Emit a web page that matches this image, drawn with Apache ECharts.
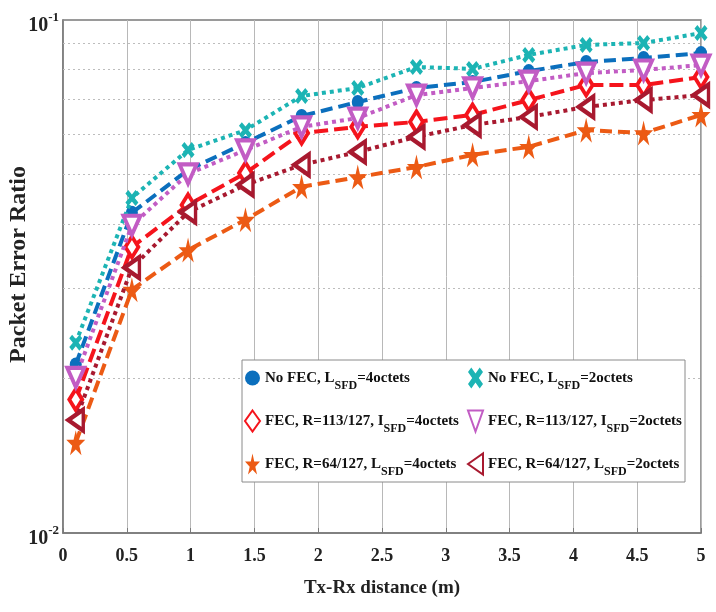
<!DOCTYPE html>
<html>
<head>
<meta charset="utf-8">
<script src="https://cdn.jsdelivr.net/npm/echarts@6/dist/echarts.min.js"></script>
<style>html,body{margin:0;padding:0;background:#fff;}#chart{width:716px;height:612px;}</style>
</head>
<body>
<div id="chart"></div>
<script>
// ---- data ----
const distances = [0.1, 0.54, 0.98, 1.43, 1.87, 2.31, 2.77, 3.21, 3.65, 4.1, 4.55, 5.0];
const xTicks = [0, 0.5, 1, 1.5, 2, 2.5, 3, 3.5, 4, 4.5, 5];
const yMinorGrid = [0.02, 0.03, 0.04, 0.05, 0.06, 0.07, 0.08, 0.09];
const noFec4 = [0.0213, 0.0421, 0.0510, 0.0576, 0.0650, 0.0692, 0.0737, 0.0757, 0.0795, 0.0828, 0.0843, 0.0862];
const noFec2 = [0.0235, 0.0450, 0.0558, 0.0610, 0.0711, 0.0737, 0.0810, 0.0803, 0.0855, 0.0894, 0.0902, 0.0943];
const fec113_4 = [0.0182, 0.0361, 0.0436, 0.0503, 0.0602, 0.0619, 0.0633, 0.0653, 0.0698, 0.0747, 0.0747, 0.0774];
const fec113_2 = [0.0201, 0.0398, 0.0501, 0.0558, 0.0619, 0.0644, 0.0714, 0.0737, 0.0760, 0.0788, 0.0799, 0.0817];
const fec64_4 = [0.0150, 0.0298, 0.0356, 0.0408, 0.0473, 0.0494, 0.0517, 0.0546, 0.0566, 0.0610, 0.0602, 0.0653];
const fec64_2 = [0.0166, 0.0329, 0.0422, 0.0477, 0.0522, 0.0553, 0.0592, 0.0624, 0.0647, 0.0677, 0.0698, 0.0714];
const seriesNames = ['noFec4', 'noFec2', 'fec113_4', 'fec113_2', 'fec64_4', 'fec64_2'];
const legendLeftColumn = ['noFec4', 'fec113_4', 'fec64_4'];
const legendRightColumn = ['noFec2', 'fec113_2', 'fec64_2'];
const legendLabels = {
  noFec4: ['No FEC, L', 'SFD', '=4octets'],
  noFec2: ['No FEC, L', 'SFD', '=2octets'],
  fec113_4: ['FEC, R=113/127, I', 'SFD', '=4octets'],
  fec113_2: ['FEC, R=113/127, I', 'SFD', '=2octets'],
  fec64_4: ['FEC, R=64/127, L', 'SFD', '=4octets'],
  fec64_2: ['FEC, R=64/127, L', 'SFD', '=2octets']
};
const xAxisTitle = 'Tx-Rx distance (m)';
const yAxisTitle = 'Packet Error Ratio';

// ---- styling ----
const FONT = '"Liberation Serif", "Times New Roman", serif';
const STAR = 'path://M50,0 L61,35 L98,35 L68,57 L79,91 L50,70 L21,91 L32,57 L2,35 L39,35 Z';
const XMARK = 'path://M22,0 L50,28 L78,0 L100,22 L72,50 L100,78 L78,100 L50,72 L22,100 L0,78 L28,50 L0,22 Z';
const TRI_DOWN = 'path://M0,0 L100,0 L50,100 Z';
const TRI_LEFT = 'path://M0,50 L100,0 L100,100 Z';

const styles = {
  noFec4:   {color: '#0b6fbd', dash: [12, 6], symbol: 'circle', size: [12, 14], hollow: false},
  noFec2:   {color: '#1cb4b4', dash: [4, 4], symbol: XMARK, size: [13, 16], hollow: false},
  fec113_4: {color: '#f5141c', dash: [14, 6], symbol: 'diamond', size: [13, 21], hollow: true},
  fec113_2: {color: '#c25cc4', dash: [4, 4], symbol: TRI_DOWN, size: [17, 19], hollow: true},
  fec64_4:  {color: '#ec5a14', dash: [12, 6], symbol: STAR, size: [19, 25], hollow: false},
  fec64_2:  {color: '#a8192f', dash: [4, 4], symbol: TRI_LEFT, size: [15, 21], hollow: true}
};
const dataMap = {noFec4, noFec2, fec113_4, fec113_2, fec64_4, fec64_2};

const series = seriesNames.map((name, i) => {
  const st = styles[name];
  const s = {
    name: name,
    type: 'line',
    data: distances.map((x, k) => [x, dataMap[name][k]]),
    symbol: st.symbol,
    symbolSize: st.size,
    showAllSymbol: true,
    lineStyle: {color: st.color, width: 4, type: st.dash},
    itemStyle: st.hollow ? {color: '#ffffff', borderColor: st.color, borderWidth: 4} : {color: st.color},
    z: 3 + i,
    animation: false
  };
  if (i === 0) {
    s.markLine = {
      silent: true,
      z: 1,
      symbol: ['none', 'none'],
      label: {show: false},
      lineStyle: {color: '#bdbdbd', width: 1, type: [2, 3]},
      data: yMinorGrid.map(v => ({yAxis: v})),
      animation: false
    };
  }
  return s;
});

function makeLegend(names, left) {
  return {
    left: left, top: 364,
    orient: 'vertical',
    padding: 0,
    itemGap: 15,
    itemWidth: 15, itemHeight: 21,
    symbolKeepAspect: false,
    z: 21,
    data: names.map(n => ({name: n, icon: styles[n].symbol})),
    formatter: n => '{m|' + legendLabels[n][0] + '}{s|' + legendLabels[n][1] + '}{m|' + legendLabels[n][2] + '}',
    textStyle: {
      rich: {
        m: {color: '#111', fontFamily: FONT, fontWeight: 'bold', fontSize: 15, lineHeight: 16},
        s: {color: '#111', fontFamily: FONT, fontWeight: 'bold', fontSize: 12, lineHeight: 12, padding: [16, 0, 0, 0]}
      }
    }
  };
}

const chart = echarts.init(document.getElementById('chart'), null, {renderer: 'canvas'});
chart.setOption({
  backgroundColor: '#ffffff',
  animation: false,
  grid: {left: 63, right: 15, top: 20, bottom: 79, containLabel: false, outerBoundsMode: 'none',
         show: true, borderColor: '#7a7a7a', borderWidth: 1.5, backgroundColor: 'transparent'},
  xAxis: {
    type: 'value', min: xTicks[0], max: xTicks[xTicks.length - 1], interval: 0.5,
    axisLine: {show: true, lineStyle: {color: '#7a7a7a', width: 1.5}},
    axisTick: {show: true, inside: true, length: 5, lineStyle: {color: '#7a7a7a'}},
    splitLine: {show: true, lineStyle: {color: '#b8b8b8', width: 1}},
    axisLabel: {color: '#222', fontFamily: FONT, fontWeight: 'bold', fontSize: 18, margin: 14, formatter: v => String(v)},
    name: xAxisTitle, nameLocation: 'middle', nameGap: 46, nameMoveOverlap: false,
    nameTextStyle: {color: '#222', fontFamily: FONT, fontWeight: 'bold', fontSize: 19}
  },
  yAxis: {
    type: 'log', logBase: 10, min: 0.01, max: 0.1,
    axisLine: {show: true, lineStyle: {color: '#7a7a7a', width: 1.5}},
    axisTick: {show: false},
    splitLine: {show: false},
    axisLabel: {
      margin: 4,
      formatter: v => '{b|10}{s|' + Math.round(Math.log10(v)) + '}',
      rich: {
        b: {color: '#222', fontFamily: FONT, fontWeight: 'bold', fontSize: 20, lineHeight: 20, padding: [12, 0, 0, 0]},
        s: {color: '#222', fontFamily: FONT, fontWeight: 'bold', fontSize: 13, lineHeight: 13, padding: [0, 0, 4, 0]}
      }
    },
    name: yAxisTitle, nameLocation: 'middle', nameGap: 32, nameRotate: 90, nameMoveOverlap: false,
    nameTextStyle: {color: '#222', fontFamily: FONT, fontWeight: 'bold', fontSize: 24, padding: [0, 0, 0, 24]}
  },
  graphic: [{
    type: 'rect', z: 20, silent: true,
    shape: {x: 242, y: 360, width: 443, height: 122},
    style: {fill: '#ffffff', stroke: '#8a8a8a', lineWidth: 1}
  }],
  legend: [makeLegend(legendLeftColumn, 244), makeLegend(legendRightColumn, 467)],
  series: series
});
</script>
</body>
</html>
